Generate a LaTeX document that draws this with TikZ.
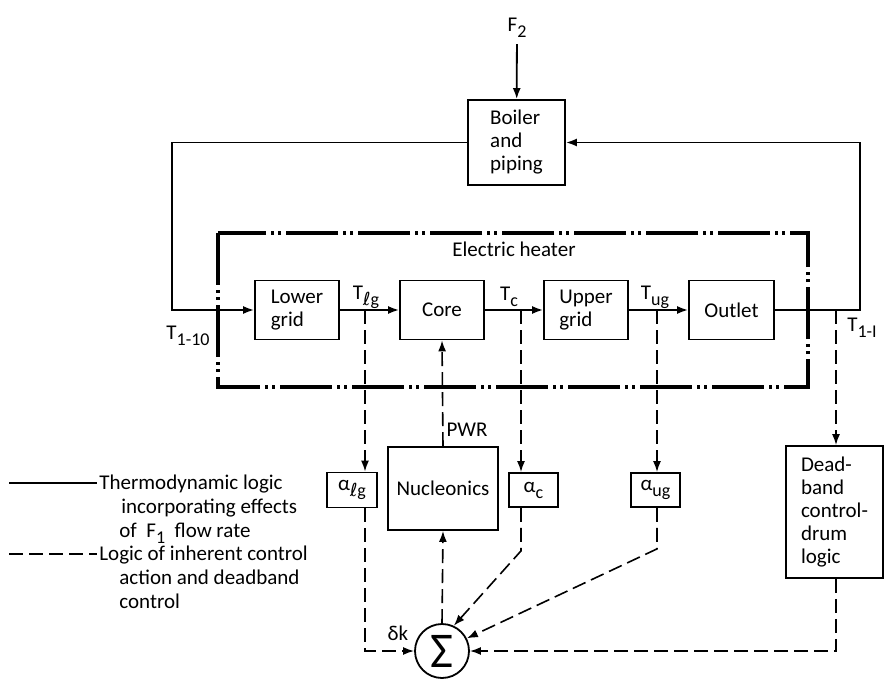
\documentclass[tikz,border=0pt]{standalone}
\usepackage{fontspec}
\setmainfont{Carlito}
\newfontfamily\symfont{DejaVu Sans}
\usetikzlibrary{arrows.meta}
\newcommand{\lowsub}[1]{\raisebox{-0.6ex}{\fontsize{9}{9}\selectfont #1}}
\tikzset{
  blk/.style={draw, line width=0.9pt, align=left, inner sep=0pt, font=\fontsize{10.5}{11.5}\selectfont},
  flow/.style={line width=0.9pt},
  tip/.style={-{Latex[length=5.5pt,width=4pt]}},
  ctrl/.style={line width=0.8pt, dash pattern=on 7pt off 3pt},
  heater/.style={line width=1.6pt, dash pattern=on 26pt off 2.5pt on 1.5pt off 2pt on 1.5pt off 2.5pt},
  lbl/.style={font=\fontsize{10.5}{11.5}\selectfont, inner sep=0pt},
}

\begin{document}
\begin{tikzpicture}[x=0.5pt, y=-0.5pt]
  \useasboundingbox (0,0) rectangle (884,680);
  % Electric heater enclosure
  \draw[heater] (218,233) rectangle (808,387);
  \node[lbl] (heatlbl) at (514,249) {Electric heater};
  % Boiler
  \node[lbl] (f2) at (517,28) {F\lowsub{2}};
  \node[blk, minimum width=48.5pt, minimum height=42.5pt] (boiler) at (516.5,142.5) {Boiler\\and\\piping};
  % Heater blocks
  \node[blk, minimum width=42pt, minimum height=29.5pt] (lower) at (297,310) {Lower\\grid};
  \node[blk, minimum width=42pt, minimum height=29.5pt] (core) at (442,310) {Core};
  \node[blk, minimum width=42pt, minimum height=29.5pt] (upper) at (586,310) {Upper\\grid};
  \node[blk, minimum width=42.5pt, minimum height=29.5pt] (outlet) at (731.5,310) {Outlet};
  % Reactivity blocks
  \node[blk, minimum width=25pt, minimum height=17.5pt] (alg) at (352,490) {α\lowsub{{\symfont ℓ}g}};
  \node[blk, minimum width=24.5pt, minimum height=17pt] (ac) at (533.5,490) {α\lowsub{c}};
  \node[blk, minimum width=24.5pt, minimum height=17pt] (aug) at (655.5,490) {α\lowsub{ug}};
  \node[blk, minimum width=55pt, minimum height=41.5pt] (nucl) at (443,488.5) {Nucleonics};
  \node[blk, minimum width=48.5pt, minimum height=66pt] (dead) at (834.5,512) {Dead-\\band\\control-\\drum\\logic};
  \node[draw, circle, line width=0.9pt, minimum size=27pt, inner sep=0pt, font=\fontsize{25}{25}\selectfont] (sig) at (442,651) {Σ};
  % Taps on the coolant line
  \coordinate (inl) at (172,310);
  \coordinate (outr) at (860,310);
  \coordinate (tlg) at (365,310);
  \coordinate (tc) at (521,310);
  \coordinate (tug) at (657,310);
  \coordinate (tout) at (836,310);
  % Thermodynamic loop
  \draw[flow,tip,shorten <=3pt] (f2) -- (boiler);
  \draw[flow,tip] (boiler.west) -| (inl) -- (lower.west);
  \draw[flow,tip] (lower) -- (core);
  \draw[flow,tip] (core) -- (upper);
  \draw[flow,tip] (upper) -- (outlet);
  \draw[flow,tip] (outlet.east) -- (outr) |- (boiler.east);
  % Control logic
  \draw[ctrl,tip] (tlg) -- (tlg |- alg.north);
  \draw[ctrl,tip] (tlg |- alg.south) |- (sig.west);
  \draw[ctrl,tip] (tc) -- (tc |- ac.north);
  \draw[ctrl,tip] (tc |- ac.south) -- ++(0,43) -- (sig.65);
  \draw[ctrl,tip] (tug) -- (tug |- aug.north);
  \draw[ctrl,tip] (tug |- aug.south) -- ++(0,41) -- (sig.27);
  \draw[ctrl,tip] (tout) -- (tout |- dead.north);
  \draw[ctrl,tip] (tout |- dead.south) |- (sig.east);
  \draw[ctrl,tip] (sig.north) -- (nucl.south);
  \draw[ctrl,tip] (nucl.north) -- (core.south);
  % Labels
  \node[lbl] (tinlbl) at (188,336) {T\lowsub{1-10}};
  \node[lbl] (tlglbl) at (366,297) {T\lowsub{{\symfont ℓ}g}};
  \node[lbl] (tclbl) at (509,297) {T\lowsub{c}};
  \node[lbl] (tuglbl) at (655,297) {T\lowsub{ug}};
  \node[lbl] (toutlbl) at (862,328) {T\lowsub{1-I}};
  \node[lbl] (pwr) at (467,430) {PWR};
  \node[lbl] (dk) at (398,633) {δk};
  % Legend
  \coordinate (leg1a) at (9,483);
  \coordinate (leg1b) at (97,483);
  \coordinate (leg2a) at (9,554);
  \coordinate (leg2b) at (97,554);
  \draw[flow] (leg1a) -- (leg1b);
  \draw[ctrl] (leg2a) -- (leg2b);
  \node[lbl, align=left, anchor=north west, font=\fontsize{10.5}{12}\selectfont] (leg1) at (99,475)
    {Thermodynamic logic\\\hspace*{11pt}incorporating effects\\\hspace*{10pt}of~ F\raisebox{-0.5ex}[0pt][0pt]{\fontsize{9}{9}\selectfont 1}~ flow rate};
  \node[lbl, align=left, anchor=north west, font=\fontsize{10.5}{12}\selectfont] (leg2) at (99,546)
    {Logic of inherent control\\\hspace*{10pt}action and deadband\\\hspace*{10pt}control};
\end{tikzpicture}
\end{document}
